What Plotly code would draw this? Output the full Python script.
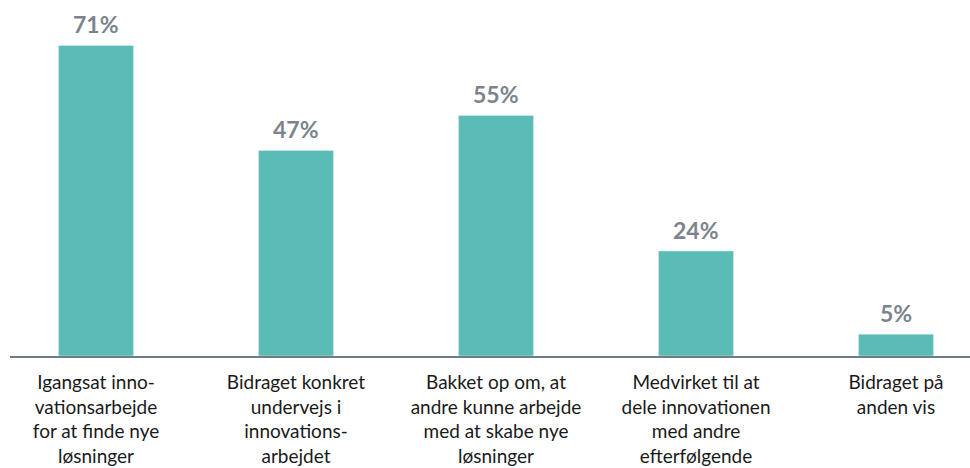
import plotly.graph_objects as go

# Kategorier og andele
categories = [
    "Igangsat inno-<br>vationsarbejde<br>for at finde nye<br>løsninger",
    "Bidraget konkret<br>undervejs i<br>innovations-<br>arbejdet",
    "Bakket op om, at<br>andre kunne arbejde<br>med at skabe nye<br>løsninger",
    "Medvirket til at<br>dele innovationen<br>med andre<br>efterfølgende",
    "Bidraget på<br>anden vis",
]
values = [71, 47, 55, 24, 5]
labels = [f"{v}%" for v in values]

bar_color = "#5bbcb6"
label_color = "#7b838d"
axis_color = "#6f7b86"

fig = go.Figure()

fig.add_trace(go.Bar(
    x=categories,
    y=values,
    marker_color=bar_color,
    hoverinfo="skip",
))

# procentlabels over søjlerne
for cat, val, lab in zip(categories, values, labels):
    fig.add_annotation(
        x=cat, y=val, text=lab,
        showarrow=False,
        yanchor="bottom",
        yshift=5,
        font=dict(family="Lato", size=23, color=label_color, weight="bold"),
    )

fig.update_layout(
    width=970,
    height=468,
    paper_bgcolor="white",
    plot_bgcolor="white",
    margin=dict(l=10, r=0, t=6, b=112),
    bargap=0.625,
    showlegend=False,
    font=dict(family="Lato", size=19, color="#1a1a1a"),
    xaxis=dict(
        range=[-0.43, 4.37],
        automargin=False,
        showline=True,
        linecolor=axis_color,
        linewidth=2,
        ticks="outside",
        ticklen=8,
        tickcolor="white",
        tickangle=0,
        tickfont=dict(family="Lato", size=19, color="#1a1a1a"),
    ),
    yaxis=dict(
        range=[0, 80],
        visible=False,
        showgrid=False,
        zeroline=False,
        automargin=False,
    ),
)

# fjern browserens standardmargen, så figuren fylder vinduet
fig.write_html(
    "out.html",
    config={"displayModeBar": False},
    post_script="document.body.style.margin='0';",
)
